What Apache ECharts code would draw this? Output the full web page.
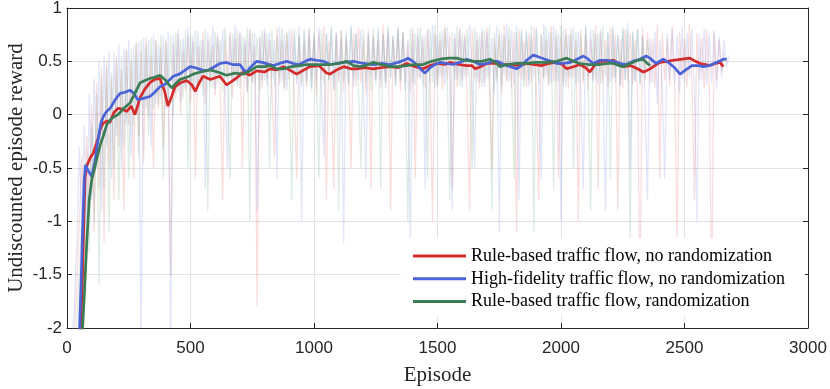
<!DOCTYPE html>
<html>
<head>
<meta charset="utf-8">
<script src="https://cdn.jsdelivr.net/npm/echarts@6/dist/echarts.min.js"></script>
<style>
    html, body { margin: 0; padding: 0; background: #fff; }
    #chart { width: 830px; height: 389px; }
</style>
</head>
<body>
<div id="chart"></div>
<script>
// 系列名称
var names = ['Rule-based traffic flow, no randomization', 'High-fidelity traffic flow, no randomization', 'Rule-based traffic flow, randomization']

// 原始数据 (每10个episode一个点, 从0开始)
var rawStep = 10
var redRaw = [
    -2.4, -2.3, -2.2, -2.0, -1.6, -1.0, -0.4, -1.3, -0.2, -0.9,
    0.1, -1.1, 0.3, -0.7, 0.45, -1.2, 0.5, -0.5, 0.35, -0.8,
    0.55, -0.3, 0.42, -0.9, 0.62, -0.1, 0.5, -0.6, 0.66, -0.2,
    0.6, -0.45, 0.72, 0.0, 0.55, -0.5, 0.7, 0.05, 0.63, -0.3,
    0.71, 0.1, -1.5, 0.66, 0.15, 0.76, 0.0, 0.6, 0.22, 0.74,
    0.12, 0.68, -0.6, 0.64, 0.26, 0.77, 0.1, 0.7, 0.32, 0.65,
    0.18, 0.74, 0.27, -0.8, 0.69, 0.33, 0.78, 0.15, 0.71, 0.29,
    0.76, -0.5, 0.68, 0.21, 0.79, 0.31, 0.64, -1.8, 0.72, 0.24,
    0.77, 0.34, 0.7, 0.19, -0.4, 0.82, 0.28, 0.69, 0.23, 0.76,
    0.33, 0.8, 0.2, -0.6, 0.74, 0.3, 0.68, 0.26, 0.81, 0.35,
    0.7, 0.18, 0.77, 0.32, 0.83, -0.8, 0.69, 0.24, -0.7, 0.75,
    0.31, 0.79, 0.22, 0.7, 0.36, -0.5, 0.76, 0.27, 0.82, 0.3,
    0.71, 0.19, 0.8, -0.7, 0.74, 0.33, 0.69, 0.25, 0.84, 0.31,
    0.75, -0.9, 0.7, 0.34, 0.8, 0.22, 0.77, 0.3, 0.68, 0.2,
    0.82, -0.6, 0.74, 0.35, 0.71, 0.24, 0.8, 0.3, -1.0, 0.76,
    0.29, 0.7, 0.23, 0.83, 0.33, 0.75, -0.7, 0.72, 0.26, 0.81,
    0.32, 0.76, 0.19, -0.9, 0.8, 0.34, 0.7, 0.24, 0.77, 0.3,
    0.82, 0.27, -0.5, 0.71, 0.35, 0.75, 0.2, 0.84, 0.31, 0.7,
    0.25, 0.77, -1.1, 0.8, 0.33, 0.69, 0.26, 0.76, 0.3, 0.82,
    0.21, -0.8, 0.75, 0.34, 0.7, 0.27, 0.83, 0.31, 0.74, -0.6,
    0.72, 0.3, 0.81, 0.24, 0.76, 0.35, 0.7, -1.0, 0.8, 0.29,
    0.75, 0.23, 0.71, 0.33, 0.84, -0.7, 0.77, 0.3, 0.7, 0.26,
    0.82, 0.34, 0.75, -0.9, 0.71, 0.25, 0.8, 0.31, 0.76, 0.28,
    0.7, 0.22, -1.7, 0.82, 0.33, 0.77, 0.29, 0.71, 0.25, 0.84,
    -0.6, 0.76, 0.32, 0.72, 0.27, 0.83, 0.3, -1.2, 0.78, 0.34,
    0.71, 0.26, 0.85, 0.31, -0.8, 0.76, 0.33, 0.72, 0.24, 0.8,
    0.3, -1.7, 0.77, 0.32, 0.7, 0.4, 0.6]
var blueRaw = [
    -2.4, -2.3, -2.1, -1.8, -1.2, -0.3, -1.0, -0.1, -1.3, 0.2,
    -0.8, 0.35, -0.5, 0.5, -0.9, 0.55, -0.3, 0.6, -0.6, 0.58,
    -0.2, 0.66, -0.5, 0.62, -0.1, 0.7, -0.4, 0.64, 0.0, 0.68,
    -2.2, 0.72, 0.05, 0.7, -0.3, 0.75, 0.1, 0.66, 0.15, 0.74,
    0.05, 0.78, -2.2, 0.75, 0.2, 0.8, 0.12, 0.72, 0.25, 0.82,
    0.22, 0.74, 0.18, 0.79, 0.3, 0.7, -0.7, 0.77, 0.28, 0.83,
    0.24, 0.76, 0.33, 0.8, 0.2, -0.5, 0.75, 0.3, 0.84, 0.26,
    0.78, 0.35, 0.72, 0.21, 0.8, 0.3, 0.76, -0.9, 0.74, 0.32,
    0.81, 0.27, 0.77, 0.34, 0.7, -0.6, 0.82, 0.3, 0.75, 0.23,
    0.8, 0.36, 0.73, 0.28, 0.83, -1.0, 0.77, 0.31, 0.8, 0.25,
    0.74, 0.34, 0.82, 0.27, -0.4, 0.76, 0.32, 0.8, 0.22, 0.78,
    0.35, 0.71, -1.2, 0.8, 0.3, 0.84, 0.26, 0.76, 0.33, 0.79,
    0.24, -0.6, 0.77, 0.36, 0.72, 0.29, 0.82, 0.31, 0.75, 0.25,
    0.8, 0.34, 0.74, 0.27, 0.83, 0.3, 0.77, 0.22, 0.7, -1.3,
    0.76, 0.28, 0.81, 0.33, 0.74, -0.7, 0.8, 0.3, 0.84, 0.24,
    0.75, 0.35, 0.79, 0.27, 0.82, 0.31, -0.9, 0.76, 0.33, 0.8,
    0.25, 0.73, 0.36, 0.84, 0.29, -0.5, 0.78, 0.3, 0.81, 0.26,
    0.77, 0.34, 0.72, 0.2, 0.83, -1.1, 0.76, 0.37, 0.86, 0.31,
    0.8, 0.28, 0.84, -0.8, 0.77, 0.33, 0.8, 0.26, 0.74, 0.35,
    0.82, 0.3, -0.6, 0.85, 0.36, 0.78, 0.29, 0.83, 0.32, 0.76,
    -1.0, 0.8, 0.27, 0.75, 0.34, 0.82, 0.3, 0.78, 0.25, -0.7,
    0.84, 0.36, 0.79, 0.31, 0.76, 0.28, 0.81, 0.33, -0.9, 0.77,
    0.3, 0.83, 0.35, 0.75, 0.27, 0.8, 0.32, 0.86, -0.5, 0.78,
    0.31, 0.8, 0.28, 0.74, 0.15, -0.8, 0.72, 0.3, 0.78, 0.1,
    0.7, 0.26, -0.6, 0.76, 0.33, 0.8, 0.29, 0.74, 0.2, 0.82,
    0.3, 0.77, 0.34, 0.8, 0.25, -1.0, 0.75, 0.32, 0.81, 0.28,
    0.76, 0.3, 0.79, 0.24, 0.73, 0.35, 0.7, 0.45, 0.55]
var greenRaw = [
    -2.4, -2.4, -2.3, -2.2, -1.9, -1.5, -1.0, -1.6, -0.6, -1.3,
    -0.1, -1.0, 0.2, -1.6, 0.35, -0.7, 0.45, -1.1, 0.4, -0.5,
    0.5, -0.8, 0.55, -0.3, 0.6, -0.6, 0.62, -0.1, 0.68, -0.4,
    0.7, 0.0, 0.66, -0.2, 0.72, 0.05, 0.7, 0.1, 0.75, -0.6,
    0.68, 0.12, 0.74, 0.0, 0.77, 0.2, 0.7, 0.15, 0.8, -0.5,
    0.74, 0.22, 0.79, 0.27, 0.7, 0.18, 0.8, -0.9, 0.73, 0.25,
    0.78, 0.3, 0.7, 0.21, 0.82, 0.28, -0.6, 0.76, 0.31, 0.8,
    0.24, 0.74, 0.33, 0.81, -1.0, 0.77, 0.29, 0.72, 0.22, 0.8,
    0.32, 0.76, -0.5, 0.79, 0.27, 0.73, 0.34, 0.82, 0.25, 0.77,
    0.3, -0.8, 0.8, 0.33, 0.75, 0.26, 0.81, 0.3, 0.74, 0.22,
    0.78, 0.35, -0.6, 0.8, 0.29, 0.76, 0.32, 0.83, 0.24, 0.75,
    -0.9, 0.79, 0.31, 0.74, 0.27, 0.82, 0.34, 0.77, 0.26, -0.5,
    0.8, 0.3, 0.75, 0.23, 0.81, 0.33, 0.78, -0.7, 0.76, 0.29,
    0.83, 0.35, 0.74, 0.27, 0.8, 0.32, 0.77, 0.25, -1.0, 0.81,
    0.3, 0.76, 0.34, 0.82, 0.28, 0.75, -0.6, 0.8, 0.31, 0.84,
    0.26, 0.78, 0.36, 0.81, 0.3, -0.8, 0.77, 0.33, 0.83, 0.27,
    0.76, 0.35, 0.8, 0.29, -0.5, 0.82, 0.31, 0.75, 0.26, 0.79,
    0.34, 0.84, -0.9, 0.77, 0.3, 0.8, 0.27, 0.74, 0.33, 0.82,
    0.29, -0.6, 0.78, 0.35, 0.81, 0.26, 0.76, 0.32, 0.83, -1.1,
    0.79, 0.3, 0.75, 0.34, 0.82, 0.28, 0.77, -0.7, 0.8, 0.31,
    0.84, 0.27, 0.76, 0.35, 0.81, -0.5, 0.78, 0.3, 0.74, 0.33,
    0.82, 0.26, -0.9, 0.79, 0.32, 0.76, 0.29, 0.83, 0.35, 0.77,
    -0.6, 0.8, 0.3, 0.75, 0.27, 0.82, 0.33, 0.78, -1.2, 0.76,
    0.31, 0.8, 0.28, 0.74, 0.35, 0.7, 0.45]

// 平滑曲线 [episode, reward]
var redSmooth = [[55, -2.05], [62, -1.6], [68, -1.0], [73, -0.6], [80, -0.48], [95, -0.40], [107, -0.36], [118, -0.28], [126, -0.22], [137, -0.12],
    [147, -0.08], [160, -0.06], [174, -0.07], [190, 0.02], [207, 0.06], [225, 0.05], [242, 0.03], [260, 0.08], [275, 0.0], [296, 0.16],
    [315, 0.24], [336, 0.30], [355, 0.33], [376, 0.34], [395, 0.22], [409, 0.08], [425, 0.18], [437, 0.26], [460, 0.30], [485, 0.32],
    [505, 0.28], [520, 0.22], [535, 0.30], [551, 0.36], [580, 0.33], [619, 0.36], [646, 0.28], [660, 0.30], [690, 0.35], [714, 0.40],
    [740, 0.37], [768, 0.41], [800, 0.40], [822, 0.43], [850, 0.42], [876, 0.45], [900, 0.42], [930, 0.38], [960, 0.42], [984, 0.45],
    [1020, 0.46], [1051, 0.39], [1065, 0.38], [1092, 0.42], [1120, 0.45], [1150, 0.43], [1173, 0.43], [1205, 0.44], [1240, 0.43], [1270, 0.44],
    [1308, 0.45], [1340, 0.44], [1375, 0.48], [1410, 0.45], [1442, 0.43], [1470, 0.46], [1497, 0.48], [1530, 0.47], [1550, 0.49], [1585, 0.47],
    [1618, 0.46], [1640, 0.46], [1652, 0.43], [1675, 0.45], [1699, 0.48], [1739, 0.48], [1765, 0.47], [1794, 0.47], [1830, 0.46], [1860, 0.48],
    [1887, 0.47], [1920, 0.46], [1950, 0.48], [1983, 0.49], [2005, 0.47], [2023, 0.43], [2050, 0.45], [2077, 0.47], [2100, 0.44], [2117, 0.40],
    [2135, 0.46], [2158, 0.50], [2185, 0.50], [2212, 0.51], [2235, 0.48], [2252, 0.45], [2280, 0.46], [2310, 0.43], [2333, 0.40], [2345, 0.41],
    [2360, 0.43], [2380, 0.46], [2400, 0.49], [2430, 0.50], [2455, 0.51], [2490, 0.52], [2522, 0.53], [2545, 0.50], [2563, 0.48], [2585, 0.47],
    [2603, 0.46], [2625, 0.48], [2644, 0.49], [2657, 0.45]]
var blueSmooth = [[50, -2.05], [58, -1.5], [64, -1.0], [70, -0.6], [75, -0.47], [85, -0.52], [100, -0.58], [112, -0.45], [125, -0.25], [137, -0.08],
    [147, -0.02], [160, 0.03], [175, 0.06], [195, 0.14], [215, 0.20], [235, 0.21], [255, 0.23], [270, 0.20], [287, 0.14], [305, 0.15],
    [336, 0.17], [355, 0.21], [376, 0.26], [400, 0.29], [430, 0.36], [455, 0.38], [480, 0.42], [498, 0.45], [520, 0.44], [545, 0.42],
    [566, 0.41], [590, 0.44], [619, 0.48], [646, 0.49], [670, 0.47], [700, 0.47], [715, 0.42], [727, 0.40], [745, 0.45], [768, 0.50],
    [790, 0.49], [835, 0.46], [860, 0.48], [890, 0.50], [915, 0.48], [940, 0.47], [965, 0.50], [984, 0.52], [1010, 0.51], [1040, 0.50],
    [1065, 0.47], [1092, 0.48], [1120, 0.49], [1160, 0.50], [1200, 0.48], [1240, 0.47], [1280, 0.48], [1308, 0.47], [1340, 0.49], [1365, 0.51],
    [1381, 0.53], [1400, 0.50], [1415, 0.47], [1435, 0.42], [1449, 0.39], [1470, 0.44], [1490, 0.47], [1510, 0.49], [1535, 0.48], [1563, 0.47],
    [1590, 0.49], [1618, 0.52], [1645, 0.50], [1672, 0.47], [1700, 0.48], [1726, 0.50], [1745, 0.50], [1767, 0.47], [1795, 0.45], [1821, 0.43],
    [1840, 0.46], [1861, 0.51], [1888, 0.56], [1910, 0.54], [1935, 0.52], [1960, 0.50], [1983, 0.48], [2010, 0.48], [2037, 0.49], [2065, 0.52],
    [2091, 0.55], [2110, 0.52], [2130, 0.48], [2158, 0.51], [2185, 0.51], [2212, 0.50], [2240, 0.48], [2265, 0.47], [2290, 0.50], [2320, 0.52],
    [2345, 0.55], [2360, 0.53], [2385, 0.48], [2414, 0.52], [2440, 0.48], [2460, 0.44], [2482, 0.38], [2505, 0.42], [2530, 0.46], [2560, 0.46],
    [2576, 0.45], [2600, 0.46], [2620, 0.48], [2640, 0.50], [2657, 0.52], [2671, 0.52]]
var greenSmooth = [[62, -2.05], [70, -1.7], [80, -1.2], [90, -0.8], [100, -0.61], [110, -0.52], [120, -0.42], [135, -0.28], [147, -0.20], [160, -0.10],
    [174, -0.05], [190, -0.02], [207, 0.00], [230, 0.06], [255, 0.11], [275, 0.20], [296, 0.30], [315, 0.32], [336, 0.34], [355, 0.35],
    [376, 0.37], [400, 0.32], [424, 0.25], [440, 0.29], [457, 0.33], [485, 0.35], [511, 0.38], [540, 0.40], [579, 0.42], [610, 0.40],
    [646, 0.37], [680, 0.39], [714, 0.38], [740, 0.41], [768, 0.45], [800, 0.45], [822, 0.46], [849, 0.43], [876, 0.43], [910, 0.45],
    [943, 0.46], [970, 0.47], [997, 0.47], [1030, 0.47], [1065, 0.47], [1100, 0.48], [1132, 0.50], [1160, 0.46], [1187, 0.45], [1210, 0.46],
    [1240, 0.49], [1270, 0.47], [1308, 0.45], [1340, 0.45], [1375, 0.46], [1410, 0.47], [1442, 0.47], [1475, 0.50], [1510, 0.52], [1545, 0.53],
    [1577, 0.53], [1610, 0.51], [1645, 0.50], [1680, 0.50], [1712, 0.52], [1735, 0.49], [1753, 0.45], [1780, 0.47], [1821, 0.48], [1860, 0.48],
    [1900, 0.49], [1940, 0.49], [1983, 0.50], [2023, 0.53], [2050, 0.50], [2077, 0.48], [2110, 0.47], [2140, 0.47], [2158, 0.47], [2190, 0.48],
    [2212, 0.48], [2235, 0.46], [2252, 0.45], [2280, 0.48], [2310, 0.51], [2333, 0.52], [2345, 0.49], [2360, 0.46]]

// 颜色
var lineColors = ['#d42a2a', '#4a63d6', '#3a7d55']
var rawColors = ['rgba(230,90,90,0.2)', 'rgba(110,130,230,0.2)', 'rgba(90,160,120,0.2)']

// 原始数据转成 [x, y]
function toPairs(arr) {
    var out = []
    for (var i = 0; i < arr.length; i++) {
        out.push([i * rawStep, arr[i]])
    }
    return out
}

var myChart = echarts.init(document.getElementById('chart'))

var tickFont = { fontFamily: 'Liberation Sans, Arial, sans-serif', fontSize: 17, color: '#262626' }
var axisLineStyle = { color: '#262626', width: 1 }
var serifFont = 'Liberation Serif, Times New Roman, serif'

var option = {
    animation: false,
    grid: { left: 67, right: 22, top: 8, bottom: 61, outerBoundsMode: 'none', containLabel: false },
    legend: {
        data: names,
        orient: 'vertical',
        left: 401,
        top: 238,
        padding: [8, 20, 4, 12],
        backgroundColor: '#fff',
        icon: 'rect',
        itemWidth: 53,
        itemHeight: 3,
        itemGap: 2.8,
        textStyle: { fontFamily: serifFont, fontSize: 18, color: '#000', lineHeight: 20 }
    },
    xAxis: [{
        type: 'value',
        min: 0, max: 3000, interval: 500,
        name: 'Episode',
        nameLocation: 'middle',
        nameGap: 37,
        nameMoveOverlap: false,
        nameTextStyle: { fontFamily: serifFont, fontSize: 21, color: '#262626' },
        axisLine: { onZero: false, lineStyle: axisLineStyle },
        axisTick: { inside: true, length: 5, lineStyle: axisLineStyle },
        axisLabel: Object.assign({ margin: 12, formatter: function (v) { return String(v) } }, tickFont),
        splitLine: { show: true, lineStyle: { color: '#e3e3e3' } }
    }, {
        type: 'value', position: 'top',
        min: 0, max: 3000, interval: 500,
        axisLine: { onZero: false, lineStyle: axisLineStyle },
        axisTick: { inside: true, length: 5, lineStyle: axisLineStyle },
        axisLabel: { show: false },
        splitLine: { show: false }
    }],
    yAxis: [{
        type: 'value',
        min: -2, max: 1, interval: 0.5,
        name: 'Undiscounted episode reward',
        nameLocation: 'middle',
        nameGap: 40,
        nameMoveOverlap: false,
        nameTextStyle: { fontFamily: serifFont, fontSize: 21, color: '#262626' },
        axisLine: { show: true, onZero: false, lineStyle: axisLineStyle },
        axisTick: { show: true, inside: true, length: 5, lineStyle: axisLineStyle },
        axisLabel: Object.assign({ margin: 5 }, tickFont),
        splitLine: { show: true, lineStyle: { color: '#e3e3e3' } }
    }, {
        type: 'value', position: 'right',
        min: -2, max: 1, interval: 0.5,
        axisLine: { show: true, onZero: false, lineStyle: axisLineStyle },
        axisTick: { show: true, inside: true, length: 5, lineStyle: axisLineStyle },
        axisLabel: { show: false },
        splitLine: { show: false }
    }],
    series: [
        { name: 'raw-red', type: 'line', data: toPairs(redRaw), showSymbol: false, z: 1, lineStyle: { color: rawColors[0], width: 1.3 } },
        { name: 'raw-blue', type: 'line', data: toPairs(blueRaw), showSymbol: false, z: 1, lineStyle: { color: rawColors[1], width: 1.3 } },
        { name: 'raw-green', type: 'line', data: toPairs(greenRaw), showSymbol: false, z: 1, lineStyle: { color: rawColors[2], width: 1.3 } },
        { name: names[0], type: 'line', data: redSmooth, showSymbol: false, z: 3, color: lineColors[0], lineStyle: { width: 2.7 } },
        { name: names[1], type: 'line', data: blueSmooth, showSymbol: false, z: 3, color: lineColors[1], lineStyle: { width: 2.7 } },
        { name: names[2], type: 'line', data: greenSmooth, showSymbol: false, z: 3, color: lineColors[2], lineStyle: { width: 2.7 } }
    ]
}
myChart.setOption(option)
</script>
</body>
</html>
